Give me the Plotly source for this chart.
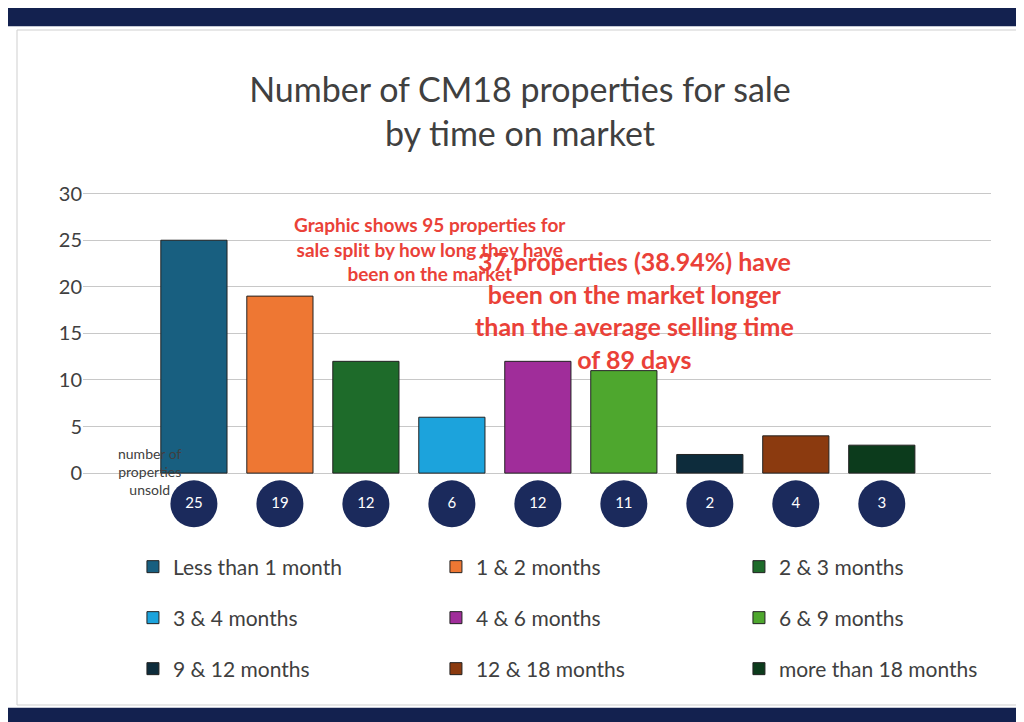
import plotly.graph_objects as go

# ========== Step 1: Chart Data ==========
categories = ['Less than 1 month', '1 & 2 months', '2 & 3 months', '3 & 4 months', '4 & 6 months',
              '6 & 9 months', '9 & 12 months', '12 & 18 months', 'more than 18 months']
counts = [25, 19, 12, 6, 12, 11, 2, 4, 3]
colors = ['#185f80', '#ee7733', '#1e6b2a', '#1ca3dc', '#a02d9a',
          '#4ea72e', '#0d2c3c', '#8b3a0f', '#0c3b1c']
y_ticks = [0, 5, 10, 15, 20, 25, 30]
badge_y = [-3.3] * len(categories)

navy = '#1b2a5c'
grey = '#404040'
red = '#ea4138'

# ========== Step 2: Build Bars ==========
fig = go.Figure()
legend_ids = ['legend', 'legend2', 'legend3']
for i, (cat, val, col) in enumerate(zip(categories, counts, colors)):
    fig.add_trace(go.Bar(
        x=[cat], y=[val], name=cat,
        marker_color=col, marker_line_color='#222222', marker_line_width=1,
        width=0.77, legend=legend_ids[i // 3]
    ))

# count badges under each bar
fig.add_trace(go.Scatter(
    x=categories, y=badge_y, mode='markers+text',
    text=[str(v) for v in counts], textfont=dict(color='white', size=15),
    marker=dict(size=47, color=navy), showlegend=False, hoverinfo='skip'
))

# ========== Step 3: Layout ==========
row_style = dict(orientation='h', x=0.055, xanchor='left', yanchor='middle',
                 entrywidth=258, font=dict(size=21, color=grey), bgcolor='rgba(0,0,0,0)')
fig.update_layout(
    width=1024, height=722,
    barmode='overlay',
    plot_bgcolor='white', paper_bgcolor='white',
    font=dict(family='Lato', color=grey),
    title=dict(text='Number of CM18 properties for sale<br>by time on market',
               x=0.5, y=0.87, xanchor='center', yanchor='middle',
               font=dict(size=34, color=grey)),
    xaxis=dict(type='category', range=[-1.29, 9.27], showticklabels=False,
               showgrid=False, zeroline=False),
    yaxis=dict(range=[-6, 30.5], tickvals=y_ticks, showgrid=True, gridcolor='#c8c8c8',
               zeroline=False, tickfont=dict(size=20, color=grey)),
    legend=dict(row_style, y=(521 - 559) / 340),
    legend2=dict(row_style, y=(521 - 610) / 340),
    legend3=dict(row_style, y=(521 - 661) / 340),
    margin=dict(t=181, b=201, l=75, r=41, autoexpand=False),
    showlegend=True
)

fig.add_annotation(text='<b>Graphic shows 95 properties for<br>sale split by how long they have<br>been on the market</b>',
                   xref='paper', yref='paper', x=(422 - 75) / 908, y=(521 - 203) / 340,
                   showarrow=False, font=dict(size=19, color=red, family='Lato'))
fig.add_annotation(text='<b>37 properties (38.94%) have<br>been on the market longer<br>than the average selling time<br>of 89 days</b>',
                   xref='paper', yref='paper', x=(788 - 75) / 908, y=(521 - 302) / 340,
                   showarrow=False, font=dict(size=25, color=red, family='Lato'))
fig.add_annotation(text='number of<br>properties<br>unsold', xref='paper', yref='paper',
                   x=(108 - 75) / 908, y=(521 - 492) / 340, showarrow=False,
                   font=dict(size=14, color=grey))

# navy bands and faint frame
fig.add_shape(type='rect', xref='paper', yref='paper', x0=-0.0826, x1=1.045, y0=1.479, y1=1.54,
              fillcolor='#13214f', line_width=0, layer='below')
fig.add_shape(type='rect', xref='paper', yref='paper', x0=-0.0826, x1=1.045, y0=-0.595, y1=-0.526,
              fillcolor='#13214f', line_width=0, layer='below')
fig.add_shape(type='rect', xref='paper', yref='paper', x0=(9 - 75) / 908, x1=(1014 - 75) / 908,
              y0=(521 - 697) / 340, y1=(521 - 22) / 340, line=dict(color='#cfcfcf', width=1),
              layer='below')

# ========== Save the Plot ==========
fig.write_html('out.html')
